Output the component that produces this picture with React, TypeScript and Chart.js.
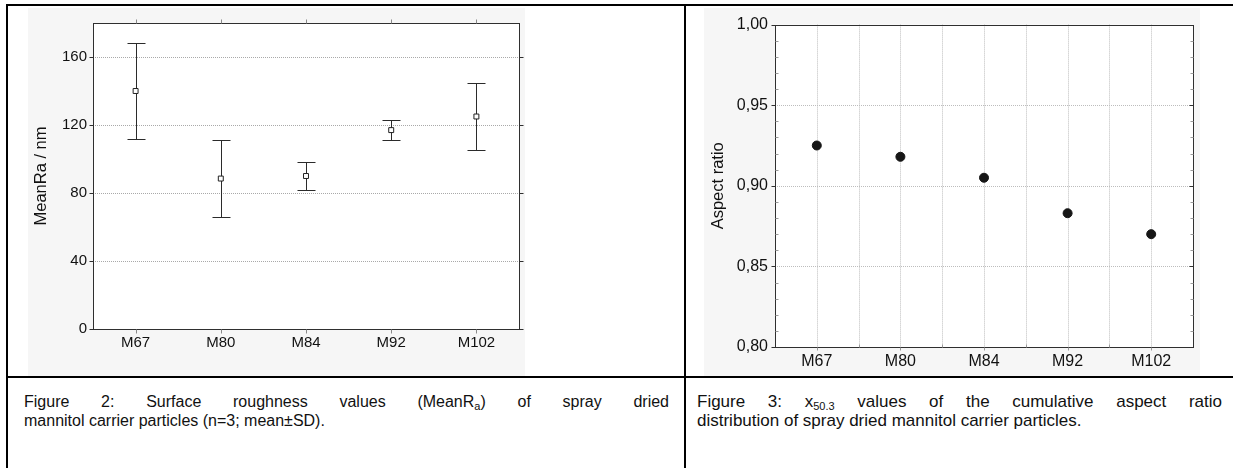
import React, { useEffect, useRef } from 'react';
import { Chart, registerables } from 'chart.js';

Chart.register(...registerables);

const categories = ['M67', 'M80', 'M84', 'M92', 'M102'];
const roughnessMean = [140, 88.5, 90, 117, 125];
const roughnessSD = [28, 22.5, 8.5, 6, 19.5];
const roughnessTicks = [0, 40, 80, 120, 160];
const aspectRatio = [0.925, 0.918, 0.905, 0.883, 0.87];
const aspectTicks = [0.8, 0.85, 0.9, 0.95, 1.0];
const aspectMinorTicks = [0.81, 0.82, 0.83, 0.84, 0.86, 0.87, 0.88, 0.89, 0.91, 0.92, 0.93, 0.94, 0.96, 0.97, 0.98, 0.99];

const FONT = "'Liberation Sans', Arial, Helvetica, sans-serif";
const IMG_BG = '#f6f6f6';

const px = (v: number) => Math.round(v) + 0.5;

function hLine(ctx: CanvasRenderingContext2D, x1: number, x2: number, y: number) {
  ctx.beginPath();
  ctx.moveTo(x1, y);
  ctx.lineTo(x2, y);
  ctx.stroke();
}
function vLine(ctx: CanvasRenderingContext2D, x: number, y1: number, y2: number) {
  ctx.beginPath();
  ctx.moveTo(x, y1);
  ctx.lineTo(x, y2);
  ctx.stroke();
}

const roughnessPlugin = {
  id: 'roughnessDecor',
  beforeDraw(chart: any) {
    const { ctx, chartArea: a, width, height } = chart;
    const y = chart.scales.y;
    ctx.save();
    ctx.fillStyle = IMG_BG;
    ctx.fillRect(0, 0, width, height);
    ctx.fillStyle = '#ffffff';
    ctx.fillRect(a.left, a.top, a.right - a.left, a.bottom - a.top);
    ctx.strokeStyle = '#a9a9a9';
    ctx.lineWidth = 1;
    ctx.setLineDash([1, 1]);
    roughnessTicks.forEach((v) => {
      if (v === 0) return;
      hLine(ctx, a.left, a.right, px(y.getPixelForValue(v)));
    });
    ctx.restore();
  },
  beforeDatasetsDraw(chart: any) {
    const { ctx } = chart;
    const x = chart.scales.x;
    const y = chart.scales.y;
    ctx.save();
    ctx.strokeStyle = '#2b2b2b';
    ctx.lineWidth = 1;
    roughnessMean.forEach((m, i) => {
      const cx = px(x.getPixelForValue(i));
      const top = px(y.getPixelForValue(m + roughnessSD[i]));
      const bot = px(y.getPixelForValue(m - roughnessSD[i]));
      vLine(ctx, cx, top, bot);
      hLine(ctx, cx - 9, cx + 9, top);
      hLine(ctx, cx - 9, cx + 9, bot);
    });
    ctx.restore();
  },
  afterDraw(chart: any) {
    const { ctx, chartArea: a } = chart;
    const x = chart.scales.x;
    const y = chart.scales.y;
    ctx.save();
    ctx.lineWidth = 1;
    ctx.strokeStyle = '#2f2f2f';
    const l = px(a.left), r = px(a.right), t = px(a.top), b = px(a.bottom);
    ctx.strokeRect(l, t, r - l, b - t);
    roughnessTicks.forEach((v) => {
      const yy = px(y.getPixelForValue(v));
      hLine(ctx, l - 4, l, yy);
      hLine(ctx, r, r + 4, yy);
    });
    ctx.strokeStyle = '#8a8a8a';
    categories.forEach((_, i) => {
      const xx = px(x.getPixelForValue(i));
      vLine(ctx, xx, b, b + 4);
      vLine(ctx, xx, t - 4, t);
    });
    ctx.restore();
  },
};

const aspectPlugin = {
  id: 'aspectDecor',
  beforeDraw(chart: any) {
    const { ctx, chartArea: a, width, height } = chart;
    const x = chart.scales.x;
    const y = chart.scales.y;
    ctx.save();
    ctx.fillStyle = IMG_BG;
    ctx.fillRect(0, 0, width, height);
    ctx.fillStyle = '#ffffff';
    ctx.fillRect(a.left, a.top, a.right - a.left, a.bottom - a.top);
    ctx.strokeStyle = '#bdbdbd';
    ctx.lineWidth = 1;
    ctx.setLineDash([1, 1]);
    aspectTicks.forEach((v) => {
      hLine(ctx, a.left, a.right, px(y.getPixelForValue(v)));
    });
    const step = x.getPixelForValue(1) - x.getPixelForValue(0);
    categories.forEach((_, i) => {
      const c = x.getPixelForValue(i);
      vLine(ctx, px(c), a.top, a.bottom);
      if (i > 0) vLine(ctx, px(c - step / 2), a.top, a.bottom);
    });
    ctx.restore();
  },
  afterDraw(chart: any) {
    const { ctx, chartArea: a } = chart;
    const x = chart.scales.x;
    const y = chart.scales.y;
    ctx.save();
    ctx.lineWidth = 1;
    ctx.strokeStyle = '#2f2f2f';
    const l = px(a.left), r = px(a.right), t = px(a.top), b = px(a.bottom);
    ctx.strokeRect(l, t, r - l, b - t);
    aspectTicks.forEach((v) => {
      const yy = px(y.getPixelForValue(v));
      hLine(ctx, l - 4, l, yy);
      hLine(ctx, r - 4, r, yy);
    });
    ctx.strokeStyle = '#9a9a9a';
    aspectMinorTicks.forEach((v) => {
      const yy = px(y.getPixelForValue(v));
      hLine(ctx, l, l + 3, yy);
      hLine(ctx, r - 3, r, yy);
    });
    const step = x.getPixelForValue(1) - x.getPixelForValue(0);
    categories.forEach((_, i) => {
      const c = x.getPixelForValue(i);
      vLine(ctx, px(c), b, b + 3);
      if (i > 0) vLine(ctx, px(c - step / 2), b - 3, b);
    });
    ctx.restore();
  },
};

function RoughnessChart() {
  const ref = useRef<HTMLCanvasElement>(null);
  useEffect(() => {
    const chart = new Chart(ref.current as HTMLCanvasElement, {
      type: 'line',
      data: {
        labels: categories,
        datasets: [
          {
            data: roughnessMean,
            showLine: false,
            pointStyle: 'rect',
            pointRadius: 3.5,
            pointBackgroundColor: '#ffffff',
            pointBorderColor: '#222222',
            pointBorderWidth: 1,
          },
        ],
      },
      options: {
        responsive: false,
        animation: false,
        devicePixelRatio: 1,
        layout: { padding: { top: 15, right: 6, left: 0, bottom: 0 } },
        plugins: { legend: { display: false }, tooltip: { enabled: false } },
        scales: {
          x: {
            type: 'category',
            offset: true,
            grid: { display: false, drawTicks: false },
            border: { display: false },
            ticks: { color: '#111', font: { family: FONT, size: 15 }, padding: 5, maxRotation: 0 },
            afterFit: (s: any) => { s.height = 47; },
          },
          y: {
            type: 'linear',
            min: 0,
            max: 180,
            grid: { display: false, drawTicks: false },
            border: { display: false },
            afterBuildTicks: (s: any) => { s.ticks = roughnessTicks.map((v) => ({ value: v })); },
            ticks: { color: '#111', font: { family: FONT, size: 15 }, padding: 6 },
            title: {
              display: true,
              text: 'MeanRa / nm',
              color: '#111',
              font: { family: FONT, size: 16.5 },
              padding: { top: 4, bottom: 0 },
            },
            afterFit: (s: any) => { s.width = 65; },
          },
        },
      } as any,
      plugins: [roughnessPlugin],
    });
    return () => chart.destroy();
  }, []);
  return <canvas ref={ref} width={497} height={368} style={{ position: 'absolute', left: 28, top: 8 }} />;
}

function AspectChart() {
  const ref = useRef<HTMLCanvasElement>(null);
  useEffect(() => {
    const chart = new Chart(ref.current as HTMLCanvasElement, {
      type: 'line',
      data: {
        labels: categories,
        datasets: [
          {
            data: aspectRatio,
            showLine: false,
            pointStyle: 'circle',
            pointRadius: 4.5,
            pointBackgroundColor: '#161616',
            pointBorderColor: '#161616',
            pointBorderWidth: 1,
          },
        ],
      },
      options: {
        responsive: false,
        animation: false,
        devicePixelRatio: 1,
        layout: { padding: { top: 15, right: 7, left: 0, bottom: 0 } },
        plugins: { legend: { display: false }, tooltip: { enabled: false } },
        scales: {
          x: {
            type: 'category',
            offset: true,
            grid: { display: false, drawTicks: false },
            border: { display: false },
            ticks: { color: '#111', font: { family: FONT, size: 16 }, padding: 5, maxRotation: 0 },
            afterFit: (s: any) => { s.height = 29; },
          },
          y: {
            type: 'linear',
            min: 0.8,
            max: 1.0,
            grid: { display: false, drawTicks: false },
            border: { display: false },
            afterBuildTicks: (s: any) => { s.ticks = aspectTicks.map((v) => ({ value: v })); },
            ticks: {
              color: '#111',
              font: { family: FONT, size: 16 },
              padding: 7,
              callback: (v: any) => Number(v).toFixed(2).replace('.', ','),
            },
            title: {
              display: true,
              text: 'Aspect ratio',
              color: '#111',
              font: { family: FONT, size: 16.5 },
              padding: { top: 5, bottom: 0 },
            },
            afterFit: (s: any) => { s.width = 71; },
          },
        },
      } as any,
      plugins: [aspectPlugin],
    });
    return () => chart.destroy();
  }, []);
  return <canvas ref={ref} width={496} height={368} style={{ position: 'absolute', left: 704, top: 8 }} />;
}

const subStyle: React.CSSProperties = { fontSize: '11px', verticalAlign: '-3px', lineHeight: 0 };

export default function App() {
  const captionStyle: React.CSSProperties = {
    position: 'absolute',
    top: 392,
    fontFamily: FONT,
    lineHeight: '19px',
    color: '#111',
  };
  return (
    <div style={{ position: 'absolute', left: 0, top: 0, width: 1233, height: 468, background: '#fff', overflow: 'hidden' }}>
      <div style={{ position: 'absolute', left: 6, top: 4, width: 1227, height: 2, background: '#000' }} />
      <div style={{ position: 'absolute', left: 6, top: 4, width: 2, height: 464, background: '#000' }} />
      <div style={{ position: 'absolute', left: 684, top: 4, width: 2, height: 464, background: '#000' }} />
      <div style={{ position: 'absolute', left: 6, top: 376, width: 1227, height: 2, background: '#000' }} />
      <RoughnessChart />
      <AspectChart />
      <div style={{ ...captionStyle, left: 24, width: 645, fontSize: '16px' }}>
        <div style={{ textAlign: 'justify', textAlignLast: 'justify' }}>
          Figure 2: Surface roughness values (MeanR<sub style={subStyle}>a</sub>) of spray dried
        </div>
        <div>mannitol carrier particles (n=3; mean±SD).</div>
      </div>
      <div style={{ ...captionStyle, left: 697, width: 525, fontSize: '17px' }}>
        <div style={{ textAlign: 'justify', textAlignLast: 'justify' }}>
          Figure 3: x<sub style={subStyle}>50.3</sub> values of the cumulative aspect ratio
        </div>
        <div>distribution of spray dried mannitol carrier particles.</div>
      </div>
    </div>
  );
}
